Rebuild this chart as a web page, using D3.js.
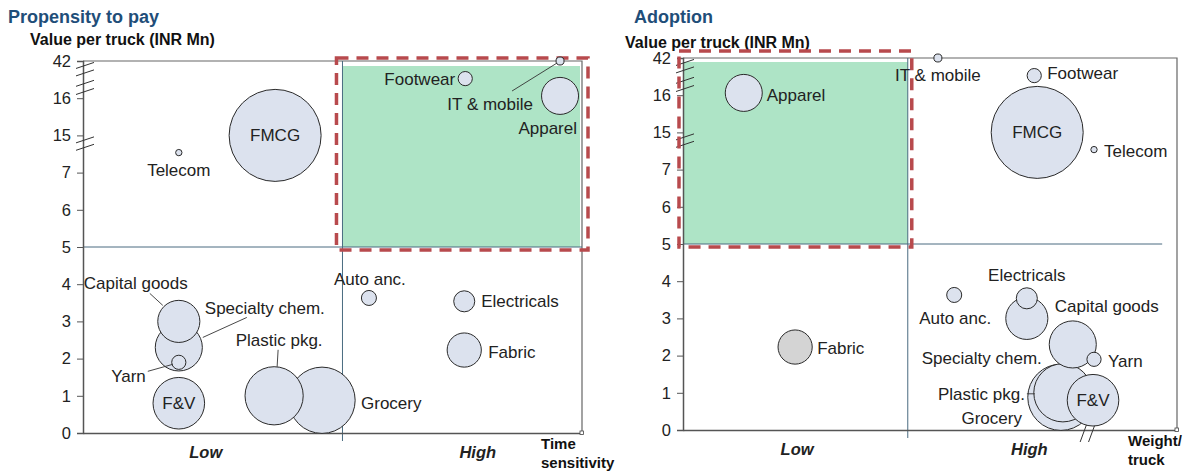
<!DOCTYPE html>
<html>
<head>
<meta charset="utf-8">
<title>Propensity to pay / Adoption</title>
<style>
body { margin: 0; background: #fff; }
svg { font-family: Arial, "Liberation Sans", sans-serif; }
</style>
<script src="https://cdn.jsdelivr.net/npm/d3@7"></script>
</head>
<body>
<svg id="chart" width="1189" height="475"></svg>
<script>
// ---- data ----
var sectors = ["FMCG", "Telecom", "Footwear", "IT & mobile", "Apparel", "Capital goods",
	"Specialty chem.", "Yarn", "F&V", "Plastic pkg.", "Grocery", "Auto anc.", "Electricals", "Fabric"];
var valuePerTruck = [15, 11.3, 29.7, 42, 17.6, 3.0, 2.3, 1.9, 0.8, 1.0, 0.88, 3.63, 3.54, 2.23];
var bubbleSize    = [210, 1, 5, 1.6, 34, 44, 55, 5, 66, 84, 109, 5.6, 11, 29];
var timeSensitivity = [3.85, 1.92, 7.66, 9.56, 9.56, 1.92, 1.92, 1.92, 1.92, 3.83, 4.79, 5.73, 7.64, 7.64];
var weightPerTruck  = [7.17, 8.32, 7.11, 5.16, 1.23, 6.96, 7.89, 8.32, 8.30, 7.69, 7.65, 5.49, 6.96, 2.27];
var yTickValues = [0, 1, 2, 3, 4, 5, 6, 7, 15, 16, 42];
var xCategories = ["Low", "High"];
var leftCategoryAt  = [2.45, 7.9];
var rightCategoryAt = [2.3, 7.0];
var leftSplit = 5.2, rightSplit = 4.55, ySplit = 5;

// label placement: [dx, dy, anchor, leader(x1,y1,x2,y2) relative to bubble centre]
var leftLabels = {
	"FMCG": [0, 0, "middle"], "Telecom": [0, 17, "middle"], "Footwear": [-10, 0, "end"],
	"IT & mobile": [-27, 43, "end", [-48, 30, -3, 2]], "Apparel": [17, 32, "end"],
	"Capital goods": [-95, -38, "start", [-29, -28, -16, -16]],
	"Specialty chem.": [26, -39, "start", [24, -10, 68, -30]],
	"Yarn": [-33, 14, "end", [-31, 9, -6, 2]], "F&V": [0, 0, "middle"],
	"Plastic pkg.": [5, -56, "middle", [4, -46, 3, -29]], "Grocery": [39, 3, "start"],
	"Auto anc.": [1, -19, "middle"], "Electricals": [17, 0, "start"], "Fabric": [24, 2, "start"]
};
var rightLabels = {
	"FMCG": [0, 0, "middle"], "Telecom": [10, 1, "start"], "Footwear": [13, -3, "start"],
	"IT & mobile": [0, 17, "middle"], "Apparel": [23, 2, "start"],
	"Capital goods": [28, -12, "start"], "Specialty chem.": [-31, 14, "end"],
	"Yarn": [14, 2, "start"], "F&V": [0, 0, "middle"],
	"Plastic pkg.": [-38, 1, "end", [-36, 1, -28, 1]], "Grocery": [-39, 21, "end"],
	"Auto anc.": [1, 23, "middle"], "Electricals": [0, -23, "middle"], "Fabric": [22, 1, "start"]
};

var svg = d3.select("#chart");
var rScale = d3.scaleSqrt().domain([0, 210]).range([0, 46]);

var fill = "#dce2ee", green = "#aee4c6", red = "#b84a4d", midColor = "#4a6b80";

function panel(opt) {
	var g = svg.append("g");
	var x = d3.scaleLinear().domain([0, 10]).range([opt.x0, opt.x1]);
	var idx = d3.scaleLinear().domain([0, yTickValues.length - 1]).range([opt.y0, opt.y1]);
	var y = d3.scaleLinear().domain(yTickValues).range(yTickValues.map(function(d, i) { return idx(i); }));

	// titles
	g.append("text").attr("x", opt.titleX).attr("y", 23)
		.attr("font-size", 18).attr("font-weight", "bold").attr("fill", "#1f4e79").text(opt.title);
	g.append("text").attr("x", opt.yTitleX).attr("y", opt.yTitleY)
		.attr("font-size", 16).attr("font-weight", "bold").attr("fill", "#111").text("Value per truck (INR Mn)");

	// highlighted quadrant
	var q = opt.quad;
	g.append("rect").attr("x", x(q[0]) + q[4]).attr("y", y(42) + q[5])
		.attr("width", x(q[1]) - x(q[0]) - q[4] + q[6]).attr("height", y(ySplit) - y(42) - q[5])
		.attr("fill", green);

	// frame
	g.append("path").attr("fill", "none").attr("stroke", "#666").attr("stroke-width", 1.2)
		.attr("d", "M" + x(0) + "," + y(42) + "H" + x(10) + "V" + y(0));
	// midlines
	g.append("line").attr("x1", x(0)).attr("x2", x(opt.hEnd)).attr("y1", y(ySplit)).attr("y2", y(ySplit))
		.attr("stroke", midColor).attr("stroke-width", 1);
	g.append("line").attr("x1", x(opt.split)).attr("x2", x(opt.split)).attr("y1", y(42)).attr("y2", y(0) + 8)
		.attr("stroke", midColor).attr("stroke-width", 1);

	// axes
	var yAxis = d3.axisLeft(y).tickValues(yTickValues).tickSize(6).tickPadding(6).tickFormat(d3.format("d"));
	var ya = g.append("g").attr("transform", "translate(" + x(0) + ",0)").call(yAxis);
	ya.select(".domain").attr("stroke", "#555").attr("stroke-width", 1.5);
	ya.selectAll(".tick line").attr("stroke", "#555");
	ya.selectAll(".tick text").attr("font-size", 16.5).attr("fill", "#222").attr("font-family", "Arial, 'Liberation Sans', sans-serif");

	var xAxis = d3.axisBottom(x).tickValues(opt.catAt).tickSize(0).tickPadding(13)
		.tickFormat(function(d, i) { return xCategories[i]; });
	var xa = g.append("g").attr("transform", "translate(0," + y(0) + ")").call(xAxis);
	xa.select(".domain").attr("stroke", "#555").attr("stroke-width", 1.5);
	xa.selectAll(".tick text").attr("font-size", 16.5).attr("font-weight", "bold").attr("font-style", "italic")
		.attr("fill", "#222").attr("font-family", "Arial, 'Liberation Sans', sans-serif");
	g.append("rect").attr("x", x(10) - 2).attr("y", y(0) - 2).attr("width", 3.5).attr("height", 3.5)
		.attr("fill", "#fff").attr("stroke", "#444").attr("stroke-width", 0.8);

	// axis breaks (between ticks 16-42 twice and 7-15 once)
	var breaks = [9.88, 9.68, 9.4, 9.18, 7.88, 7.68];
	g.selectAll(".brk").data(breaks).enter().append("line")
		.attr("x1", x(0) - 7).attr("x2", x(0) + 11)
		.attr("y1", function(d) { return idx(d) + 3; }).attr("y2", function(d) { return idx(d) - 3; })
		.attr("stroke", "#333").attr("stroke-width", 1);
	if (opt.xBreaks) {
		g.selectAll(".xbrk").data(opt.xBreaks).enter().append("line")
			.attr("x1", function(d) { return x(d) - 3; }).attr("x2", function(d) { return x(d) + 4; })
			.attr("y1", y(0) + 12).attr("y2", y(0) - 7)
			.attr("stroke", "#333").attr("stroke-width", 1);
	}

	// dashed red highlight
	g.append("rect").attr("x", x(q[0]) - q[2]).attr("y", y(42) - q[3])
		.attr("width", x(q[1]) - x(q[0]) + 2 * q[2]).attr("height", y(ySplit) - y(42) + q[3] + 3)
		.attr("fill", "none").attr("stroke", red).attr("stroke-width", 3.5).attr("stroke-dasharray", "12,8");

	// bubbles
	var data = sectors.map(function(s, i) {
		return { name: s, x: opt.xs[i], y: valuePerTruck[i], size: bubbleSize[i] };
	}).sort(function(a, b) { return b.size - a.size; });

	g.selectAll(".bubble").data(data).enter().append("circle")
		.attr("cx", function(d) { return x(d.x); })
		.attr("cy", function(d) { return y(d.y); })
		.attr("r", function(d) { return rScale(d.size); })
		.attr("fill", function(d) { return (opt.grey && d.name === opt.grey) ? "#d4d4d4" : fill; })
		.attr("stroke", "#2a2a2a").attr("stroke-width", 1);

	// labels and leaders
	data.forEach(function(d) {
		var l = opt.labels[d.name];
		var cx = x(d.x), cy = y(d.y);
		if (l[3]) {
			g.append("line").attr("x1", cx + l[3][0]).attr("y1", cy + l[3][1])
				.attr("x2", cx + l[3][2]).attr("y2", cy + l[3][3])
				.attr("stroke", "#333").attr("stroke-width", 0.9);
		}
		g.append("text").attr("x", cx + l[0]).attr("y", cy + l[1]).attr("dy", "0.35em")
			.attr("text-anchor", l[2]).attr("font-size", 17).attr("fill", "#222").text(d.name);
	});

	// axis title
	g.append("text").attr("x", opt.xTitleX).attr("y", y(0) + 16).attr("font-size", 15)
		.attr("font-weight", "bold").attr("fill", "#111")
		.selectAll("tspan").data(opt.xTitle).enter().append("tspan")
		.attr("x", opt.xTitleX).attr("dy", function(d, i) { return i ? 19 : 0; }).text(function(d) { return d; });
}

panel({
	title: "Propensity to pay", titleX: 8, yTitleX: 30, yTitleY: 45,
	x0: 83, x1: 582, y0: 433, y1: 61,
	xs: timeSensitivity, split: leftSplit, hEnd: 10, catAt: leftCategoryAt,
	quad: [leftSplit, 10, 6, 3, 0, 5, -2],
	labels: leftLabels, xTitle: ["Time", "sensitivity"], xTitleX: 541
});
panel({
	title: "Adoption", titleX: 634, yTitleX: 625, yTitleY: 48,
	x0: 683, x1: 1177, y0: 430, y1: 58,
	xs: weightPerTruck, split: rightSplit, hEnd: 9.7, catAt: rightCategoryAt,
	quad: [0, rightSplit, 4, 7, 1, 4, 0],
	labels: rightLabels, xTitle: ["Weight/", "truck"], xTitleX: 1128,
	xBreaks: [8.1, 8.27], grey: "Fabric"
});
</script>
</body>
</html>
